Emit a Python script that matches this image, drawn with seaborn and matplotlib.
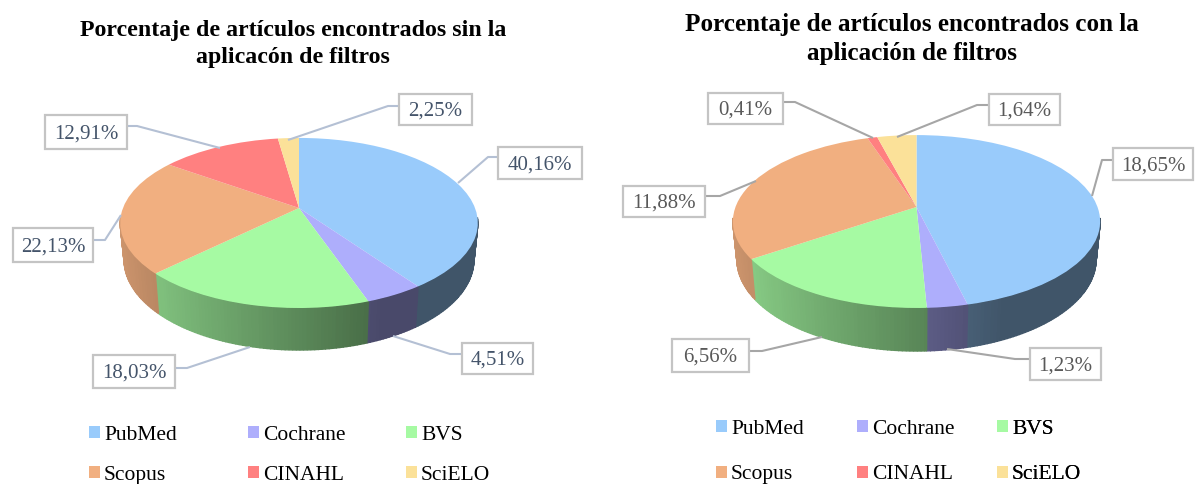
import numpy as np
import matplotlib
matplotlib.use('Agg')
import matplotlib.pyplot as plt
import matplotlib.transforms as mtransforms
from matplotlib.patches import Patch
import seaborn as sns

# Data
fuentes = ['PubMed', 'Cochrane', 'BVS', 'Scopus', 'CINAHL', 'SciELO']
sin_filtros = [40.16, 4.51, 18.03, 22.13, 12.91, 2.25]
con_filtros = [18.65, 1.23, 6.56, 11.88, 0.41, 1.64]
titulo_sin = 'Porcentaje de artículos encontrados sin la\naplicacón de filtros'
titulo_con = 'Porcentaje de artículos encontrados con la\naplicación de filtros'
colores = ['#99CBFB', '#AEAEFC', '#A6FAA3', '#F1AF80', '#FF8080', '#FBE199']

sns.set_theme(style='white')
plt.rcParams['font.family'] = ['Liberation Serif', 'DejaVu Serif']
palette = sns.color_palette(colores)


# Tilts the flat unit pie into a perspective view, output is in image pixels
class Tilt(mtransforms.Transform):
    input_dims = 2
    output_dims = 2

    def __init__(self, cx, cy, a, h, k):
        super().__init__()
        self.cx, self.cy, self.a, self.h, self.k = cx, cy, a, h, k

    def transform_non_affine(self, values):
        values = np.asarray(values)
        w = 1 + self.k * values[:, 1]
        return np.column_stack([self.cx + self.a * values[:, 0] / w,
                                self.cy - self.h * values[:, 1] / w])


def draw_pie(ax, values, tilt, depth):
    wedges, _ = ax.pie(values, colors=palette, startangle=90, counterclock=False,
                       radius=1, wedgeprops={'linewidth': 0})
    for wedge, color in zip(wedges, palette):
        wedge.set_transform(tilt + ax.transData)
        wedge.set_zorder(3)

        # side wall, shaded from left to right
        side = sns.blend_palette([[c * 0.86 for c in color], [c * 0.42 for c in color]], 100)
        angles = np.arange(wedge.theta1, wedge.theta2 + 1.0, 1.0)
        angles = np.radians(np.append(angles[angles < wedge.theta2], wedge.theta2))
        for t1, t2 in zip(angles[:-1], angles[1:]):
            if np.sin((t1 + t2) / 2) > -0.12:
                continue
            rim = tilt.transform_non_affine(np.array([[np.cos(t1), np.sin(t1)],
                                                      [np.cos(t2), np.sin(t2)]]))
            # the bottom face is a little smaller, it lies further away
            low_x = tilt.cx + (rim[:, 0] - tilt.cx) * 0.978
            low_y = rim[:, 1] + depth - 0.06 * (tilt.cy + 100 - rim[:, 1])
            xs = [rim[0, 0], rim[1, 0], low_x[1], low_x[0]]
            ys = [rim[0, 1], rim[1, 1], low_y[1], low_y[0]]
            shade = np.clip((np.cos(t1) + 1) / 1.4, 0, 0.99)
            tone = side[int(shade * 100)]
            ax.fill(xs, ys, color=tone, linewidth=1.0, zorder=2)


def draw_label(ax, text, box, leader, line_color, text_color):
    x0, y0, x1, y1 = box
    ax.plot(*zip(*leader), color=line_color, lw=1.5, zorder=4, solid_capstyle='butt')
    ax.fill([x0, x1, x1, x0], [y0, y0, y1, y1], facecolor='white', edgecolor='#C4C4C4',
            linewidth=1.6, zorder=5)
    ax.text((x0 + x1) / 2, (y0 + y1) / 2 + 2, text, ha='center', va='center', fontsize=15,
            color=text_color, zorder=6)


def draw_legend(ax, xs, y, spacing):
    handles = [Patch(facecolor=c, edgecolor='none', label=f) for c, f in zip(palette, fuentes)]
    for j, x in enumerate(xs):
        leg = ax.legend(handles=[handles[j], handles[j + 3]], loc='upper left', frameon=False,
                        bbox_to_anchor=(x, y), bbox_transform=ax.transData, fontsize=15.5,
                        handlelength=0.5, handleheight=0.5, handletextpad=0.2,
                        labelspacing=spacing, borderpad=0, borderaxespad=0,
                        labelcolor='black')
        ax.add_artist(leg)


fig = plt.figure(figsize=(11.96, 4.84), dpi=100, facecolor='white')
ax = fig.add_axes([0, 0, 1, 1])

draw_pie(ax, sin_filtros, Tilt(299, 208, 176, 82.4, 0.176), 42)
draw_pie(ax, con_filtros, Tilt(916.5, 207, 181, 84, 0.168), 43)

ax.set_aspect('auto')
ax.set_xlim(0, 1196)
ax.set_ylim(484, 0)
ax.axis('off')

ax.text(293, 44, titulo_sin, ha='center', va='center', fontsize=17.2, fontweight='bold',
        color='black', linespacing=1.36)
ax.text(912, 39, titulo_con, ha='center', va='center', fontsize=18.1, fontweight='bold',
        color='black', linespacing=1.29)

color_izq = '#B4C0D4'
texto_izq = '#44546A'
draw_label(ax, '40,16%', (498, 147, 582, 179), [(458, 183), (488, 157), (498, 157)], color_izq, texto_izq)
draw_label(ax, '4,51%', (462, 343, 533, 374), [(393, 336), (450, 354), (462, 354)], color_izq, texto_izq)
draw_label(ax, '18,03%', (93, 355, 175, 388), [(250, 347), (187, 368), (175, 368)], color_izq, texto_izq)
draw_label(ax, '22,13%', (13, 228, 93, 262), [(121, 215), (105, 240), (93, 240)], color_izq, texto_izq)
draw_label(ax, '12,91%', (45, 115, 127, 149), [(220, 148), (137, 126), (127, 126)], color_izq, texto_izq)
draw_label(ax, '2,25%', (399, 94, 472, 125), [(288, 140), (388, 106), (399, 106)], color_izq, texto_izq)

color_der = '#A6A6A6'
texto_der = '#595959'
draw_label(ax, '18,65%', (1113, 148, 1193, 180), [(1092, 196), (1102, 160), (1113, 160)], color_der, texto_der)
draw_label(ax, '1,23%', (1030, 348, 1101, 380), [(947, 349), (1015, 359), (1030, 359)], color_der, texto_der)
draw_label(ax, '6,56%', (672, 339, 749, 372), [(822, 337), (762, 351), (749, 351)], color_der, texto_der)
draw_label(ax, '11,88%', (623, 186, 705, 217), [(756, 181), (720, 196), (705, 196)], color_der, texto_der)
draw_label(ax, '0,41%', (708, 93, 783, 124), [(873, 138), (795, 102), (783, 102)], color_der, texto_der)
draw_label(ax, '1,64%', (989, 94, 1060, 125), [(897, 137), (977, 105), (989, 105)], color_der, texto_der)

draw_legend(ax, [89, 248, 406], 426, 0.97)
draw_legend(ax, [716, 857, 997], 420, 1.23)

plt.savefig('out.png', dpi=100)
